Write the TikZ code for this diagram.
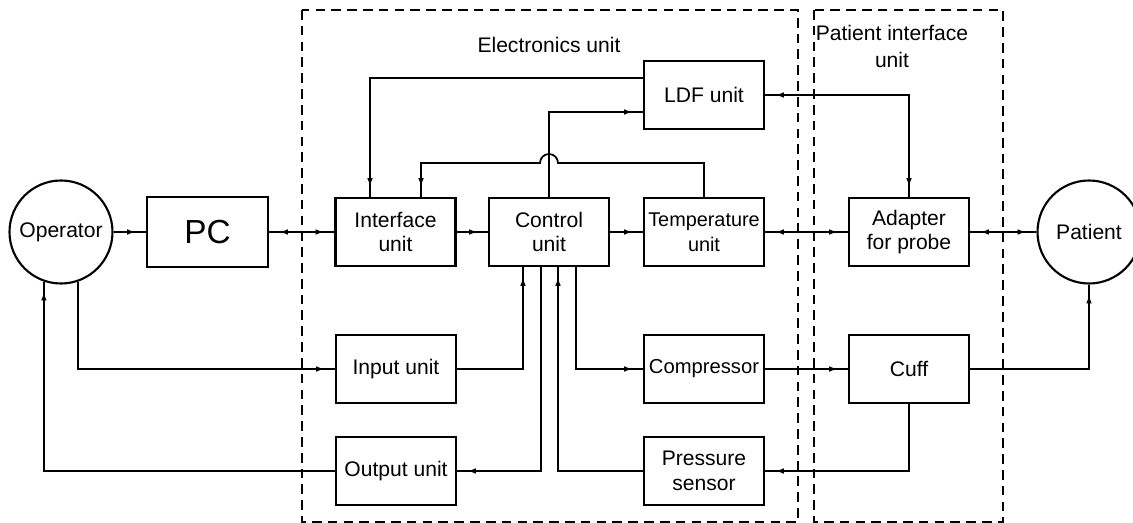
\documentclass[tikz,border=0pt]{standalone}
\usepackage{fontspec}
\setmainfont{Liberation Sans}
\usepackage{tikz}
\usetikzlibrary{positioning}
\usetikzlibrary{arrows.meta}
\usetikzlibrary{decorations.markings}

\begin{document}
\begin{tikzpicture}[
    box/.style={draw, rectangle, line width=1.2pt, minimum width=2.4cm, minimum height=1.36cm, inner sep=1pt, align=center, font=\fontsize{12}{14}\selectfont},
    party/.style={draw, circle, line width=1.2pt, minimum size=2.06cm, inner sep=0pt, font=\fontsize{12}{14}\selectfont},
    zone/.style={draw, dash pattern=on 5.5pt off 3.5pt, line width=0.7pt},
    title/.style={align=center, font=\fontsize{12}{15}\selectfont},
    link/.style={line width=1pt},
    fwd/.style={link, postaction={decorate}, decoration={markings, mark=at position -0.2cm with {\arrow{Latex[length=5pt,width=3.2pt]}}}},
    twoway/.style={link, postaction={decorate}, decoration={markings, mark=at position 0.2cm with {\arrowreversed{Latex[length=5pt,width=3.2pt]}}, mark=at position -0.2cm with {\arrow{Latex[length=5pt,width=3.2pt]}}}},
]
    \useasboundingbox (0,0) rectangle (22.66,-10.46);

    % Zones
    \draw[zone] (6.04,-0.2) rectangle (15.96,-10.44);
    \draw[zone] (16.28,-0.2) rectangle (20.06,-10.44);
    \node[title] (EUt) at (10.98,-0.9) {Electronics unit};
    \node[title] (PIt) at (17.84,-0.93) {Patient interface\\unit};

    % Nodes
    \node[party] (Op) at (1.22,-4.64) {Operator};
    \node[box, minimum width=2.42cm, minimum height=1.4cm, font=\fontsize{19}{22}\selectfont] (PC) at (4.15,-4.64) {PC};
    \node[box] (IU) at (7.91,-4.64) {Interface\\unit};
    \node[box] (CU) at (10.98,-4.64) {Control\\unit};
    \node[box, font=\fontsize{11.3}{14}\selectfont] (TU) at (14.08,-4.64) {Temperature\\unit};
    \node[box] (LDF) at (14.08,-1.9) {LDF unit};
    \node[box] (AP) at (18.18,-4.64) {Adapter\\for probe};
    \node[party] (Pt) at (21.78,-4.64) {Patient};
    \node[box] (In) at (7.92,-7.38) {Input unit};
    \node[box] (Out) at (7.92,-9.42) {Output unit};
    \node[box, font=\fontsize{11.5}{14}\selectfont] (Comp) at (14.08,-7.38) {Compressor};
    \node[box] (PS) at (14.08,-9.42) {Pressure\\sensor};
    \node[box] (Cuff) at (18.18,-7.38) {Cuff};
    \coordinate (hop) at (10.98,-3.26);

    % Edges
    \draw[fwd] (Op) -- (PC);
    \draw[twoway] (PC) -- (IU);
    \draw[fwd] (IU) -- (CU);
    \draw[fwd] (CU) -- (TU);
    \draw[twoway] (TU) -- (AP);
    \draw[twoway] (AP) -- (Pt);
    \draw[fwd] ([yshift=0.34cm]LDF.west) -| ([xshift=-0.51cm]IU.north);
    \draw[fwd] (CU.north) |- ([yshift=-0.34cm]LDF.west);
    \draw[fwd] (TU.north) |- ([xshift=0.18cm]hop) arc[start angle=0, end angle=180, radius=0.18cm] -| ([xshift=0.51cm]IU.north);
    \draw[twoway] (LDF.east) -| (AP.north);
    \draw[fwd] (In.east) -| ([xshift=-0.52cm]CU.south);
    \draw[fwd] ([xshift=-0.16cm]CU.south) |- (Out.east);
    \draw[fwd] (PS.west) -| ([xshift=0.18cm]CU.south);
    \draw[fwd] ([xshift=0.54cm]CU.south) |- (Comp.west);
    \draw[fwd] (Comp) -- (Cuff);
    \draw[fwd] (Cuff.south) |- (PS.east);
    \draw[fwd] (Cuff.east) -| (Pt.south);
    \draw[fwd] (Op.-71) |- (In.west);
    \draw[fwd] (Out.west) -| (Op.-109);
\end{tikzpicture}
\end{document}
